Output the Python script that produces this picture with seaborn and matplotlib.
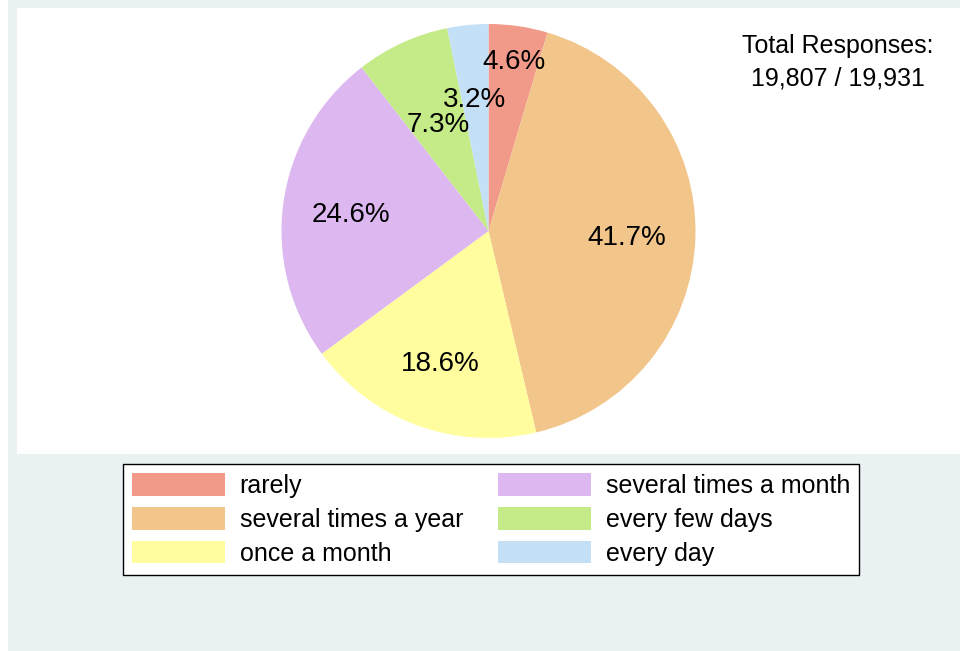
import matplotlib
matplotlib.use("Agg")
import matplotlib.pyplot as plt
from matplotlib.patches import Rectangle
import numpy as np
import seaborn as sns

# Data
categories = ["rarely", "several times a year", "once a month",
              "several times a month", "every few days", "every day"]
shares = [4.6, 41.7, 18.6, 24.6, 7.3, 3.2]
total_text = "Total Responses:\n19,807 / 19,931"

# Styling
colors = ["#F29A8A", "#F2C68A", "#FFFD9E", "#DDB8F0", "#C4EB87", "#C4E0F7"]
label_radius = [0.84, 0.67, 0.67, 0.67, 0.58, 0.65]
BG = "#EAF1F3"

sns.set_theme(style="white")
plt.rcParams["font.family"] = ["Liberation Sans", "DejaVu Sans"]
plt.rcParams["text.color"] = "black"
palette = sns.color_palette(colors)

fig = plt.figure(figsize=(9.6, 6.51), dpi=100, facecolor=BG)
# white strip on the far left edge and white plot panel (behind the axes)
fig.patches.append(Rectangle((0, 0), 8 / 960, 1, transform=fig.transFigure,
                             facecolor="white", edgecolor="none", zorder=-5))
fig.patches.append(Rectangle((17 / 960, 1 - 454 / 651), 1 - 17 / 960, 446 / 651,
                             transform=fig.transFigure, facecolor="white",
                             edgecolor="none", zorder=-5))

ax = fig.add_axes([17 / 960, 1 - 454 / 651, 1 - 17 / 960, 446 / 651])
ax.patch.set_alpha(0)

wedges, _ = ax.pie(shares, colors=palette, startangle=90, counterclock=False,
                   radius=1.0, wedgeprops=dict(linewidth=0))

# percentage labels
for w, val, r in zip(wedges, shares, label_radius):
    ang = np.deg2rad((w.theta1 + w.theta2) / 2)
    ax.text(r * np.cos(ang), r * np.sin(ang), f"{val:.1f}%",
            ha="center", va="center_baseline", fontsize=20, color="black")

ax.set_aspect("equal", adjustable="datalim")
ax.set_ylim(-223 / 207, 223 / 207)
ax.set_xlim(-1.5, 1.5)
ax.set_xticks([])
ax.set_yticks([])
for s in ax.spines.values():
    s.set_visible(False)

fig.text(838 / 960, 1 - 62 / 651, total_text, ha="center", va="center",
         fontsize=18, linespacing=1.45, color="black")

leg = fig.legend(wedges, categories, loc="center", ncol=2,
                 bbox_to_anchor=(491 / 960, 1 - 519.5 / 651),
                 fontsize=18, frameon=True, fancybox=False, shadow=False,
                 handlelength=3.7, handleheight=1.0, handletextpad=0.6,
                 columnspacing=1.4, labelspacing=0.36, borderpad=0.38,
                 borderaxespad=0)
for t in leg.get_texts():
    t.set_color("black")
frame = leg.get_frame()
frame.set_edgecolor("black")
frame.set_linewidth(1.0)
frame.set_facecolor("white")
frame.set_alpha(1)

fig.savefig("out.png", dpi=100, facecolor=fig.get_facecolor())
